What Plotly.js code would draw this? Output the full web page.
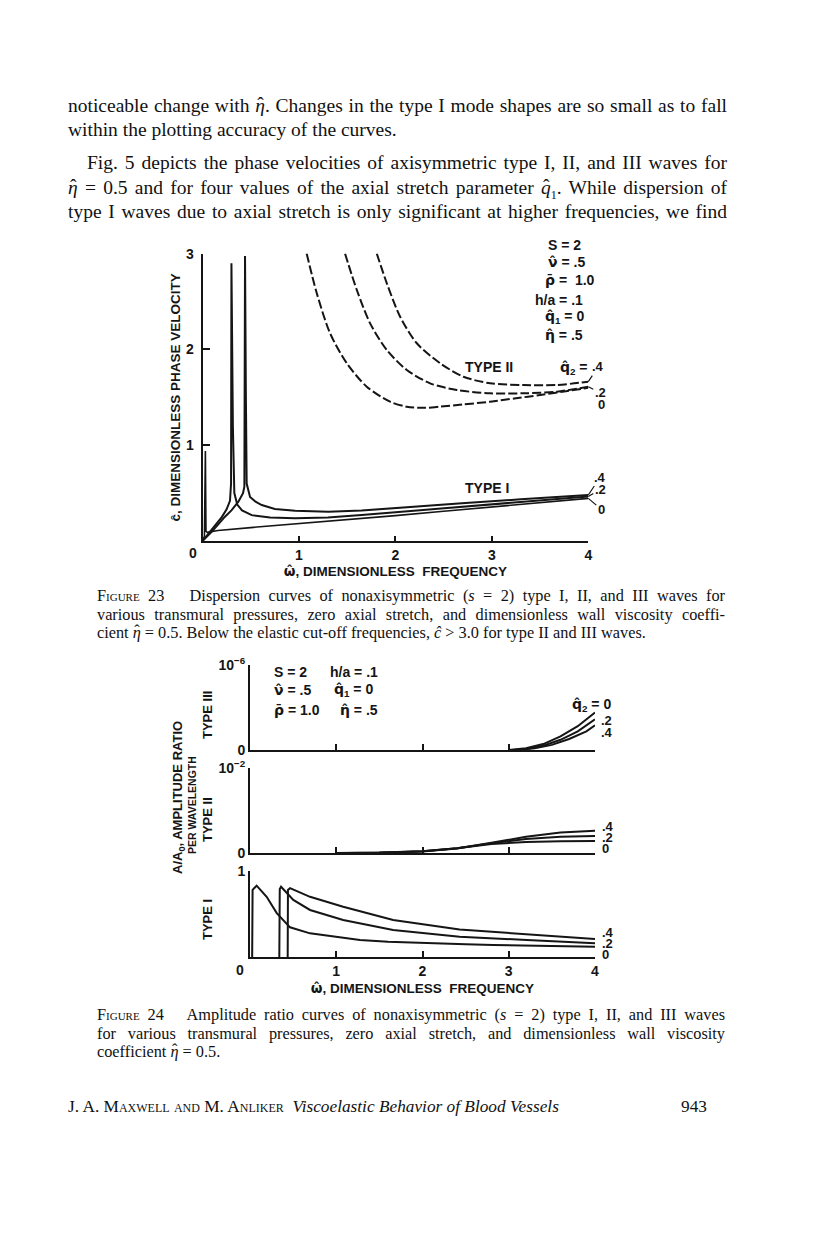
<!DOCTYPE html>
<html>
<head>
<meta charset="utf-8">
<script src="https://cdn.plot.ly/plotly-3.0.1.min.js"></script>
<style>
  html, body { margin:0; padding:0; background:#fff; }
  #page { position:relative; width:816px; height:1252px; overflow:hidden; background:#fff; }
  #plot { position:absolute; left:0; top:0; width:816px; height:1252px; }
  .ln { position:absolute; font-family:"Liberation Serif","Times New Roman",serif; color:#111;
        text-align:justify; text-align-last:justify; white-space:normal; }
  .body { font-size:19.5px; line-height:24px; }
  .cap { font-size:16.3px; line-height:19px; }
  .foot { font-size:17.3px; line-height:22px; }
  .nj { text-align:left; text-align-last:left; white-space:nowrap; }
  .sc { font-variant:small-caps; }
  .h { position:relative; display:inline-block; }
  .h::after { content:"ˆ"; position:absolute; left:50%; top:-0.1em; transform:translateX(-45%); font-style:normal; }
</style>
</head>
<body>
<div id="page">
  <div class="ln body" style="top:94px;left:68px;width:659px">noticeable change with <i class="h">η</i>. Changes in the type I mode shapes are so small as to fall</div>
  <div class="ln body nj" style="top:118px;left:68px;width:659px">within the plotting accuracy of the curves.</div>
  <div class="ln body" style="top:151px;left:87px;width:640px">Fig. 5 depicts the phase velocities of axisymmetric type I, II, and III waves for</div>
  <div class="ln body" style="top:176px;left:68px;width:659px"><i class="h">η</i> = 0.5 and for four values of the axial stretch parameter <i class="h">q</i><sub style="font-size:12px">1</sub>. While dispersion of</div>
  <div class="ln body" style="top:200px;left:68px;width:659px">type I waves due to axial stretch is only significant at higher frequencies, we find</div>

  <div class="ln cap" style="top:586px;left:97px;width:628px"><span class="sc">Figure</span> 23&nbsp;&nbsp; Dispersion curves of nonaxisymmetric (<i>s</i> = 2) type I, II, and III waves for</div>
  <div class="ln cap" style="top:605px;left:97px;width:628px">various transmural pressures, zero axial stretch, and dimensionless wall viscosity coeffi-</div>
  <div class="ln cap nj" style="top:623px;left:97px;width:628px">cient <i class="h">η</i> = 0.5. Below the elastic cut-off frequencies, <i>ĉ</i> &gt; 3.0 for type II and III waves.</div>

  <div class="ln cap" style="top:1005px;left:97px;width:628px"><span class="sc">Figure</span> 24&nbsp;&nbsp; Amplitude ratio curves of nonaxisymmetric (<i>s</i> = 2) type I, II, and III waves</div>
  <div class="ln cap" style="top:1024px;left:97px;width:628px">for various transmural pressures, zero axial stretch, and dimensionless wall viscosity</div>
  <div class="ln cap nj" style="top:1042px;left:97px;width:628px">coefficient <i class="h">η</i> = 0.5.</div>

  <div class="ln foot nj" style="top:1096px;left:68px;width:520px">J. A. M<span class="sc">axwell and</span> M. A<span class="sc">nliker</span>&nbsp;&nbsp;<i>Viscoelastic Behavior of Blood Vessels</i></div>
  <div class="ln foot nj" style="top:1096px;left:681px;width:40px">943</div>
  <div id="plot"></div>
</div>
<script>
// shrink any justified line whose natural width exceeds its box so it never wraps
document.querySelectorAll('.ln').forEach(el => {
  const target = parseFloat(el.style.width);
  const probe = document.createElement('span');
  probe.className = el.className.replace('ln', '');
  probe.style.cssText = 'position:absolute;visibility:hidden;white-space:nowrap;font-family:"Liberation Serif",serif;';
  probe.innerHTML = el.innerHTML;
  document.getElementById('page').appendChild(probe);
  const w = probe.getBoundingClientRect().width;
  probe.remove();
  if (w > target - 3) {
    const fs = parseFloat(getComputedStyle(el).fontSize);
    el.style.fontSize = (fs * (target - 6) / w).toFixed(2) + 'px';
  }
});

// ---------- Figure 23 : dispersion curves (x = dimensionless frequency, y = phase velocity) ----------
// Type II (dashed)
const f23_II_q0_x = [1.08, 1.185, 1.323, 1.496, 1.703, 1.945, 2.118, 2.30, 2.464, 2.70, 2.982, 3.25, 3.501, 3.75, 4.0];
const f23_II_q0_y = [3.0, 2.586, 2.168, 1.855, 1.611, 1.454, 1.402, 1.39, 1.402, 1.425, 1.454, 1.49, 1.524, 1.56, 1.60];
const f23_II_q2_x = [1.478, 1.60, 1.738, 1.911, 2.118, 2.36, 2.637, 2.982, 3.328, 3.674, 4.0];
const f23_II_q2_y = [3.0, 2.62, 2.272, 1.994, 1.785, 1.646, 1.576, 1.542, 1.542, 1.559, 1.611];
const f23_II_q4_x = [1.807, 1.911, 2.049, 2.222, 2.464, 2.705, 2.982, 3.328, 3.674, 4.0];
const f23_II_q4_y = [3.0, 2.69, 2.341, 2.064, 1.855, 1.715, 1.646, 1.628, 1.628, 1.663];
// Type I (solid)
const f23_I_q0_x = [0, 0.02, 0.030, 0.036, 0.05, 0.10, 0.16, 0.5, 1.0, 1.5, 2.0, 2.5, 3.0, 3.5, 4.0];
const f23_I_q0_y = [0, 0.05, 0.94, 0.10, 0.09, 0.10, 0.11, 0.14, 0.18, 0.225, 0.265, 0.31, 0.355, 0.40, 0.445];
const f23_I_q2_x = [0, 0.05, 0.13, 0.2, 0.25, 0.285, 0.296, 0.300, 0.315, 0.33, 0.36, 0.41, 0.51, 0.7, 0.96, 1.3, 1.65, 2.0, 2.5, 3.0, 3.5, 4.0];
const f23_I_q2_y = [0, 0.06, 0.167, 0.25, 0.33, 0.42, 0.6, 2.9, 1.2, 0.5, 0.38, 0.32, 0.27, 0.245, 0.237, 0.245, 0.271, 0.30, 0.34, 0.385, 0.425, 0.465];
const f23_I_q4_x = [0, 0.1, 0.233, 0.3, 0.372, 0.42, 0.434, 0.441, 0.45, 0.458, 0.493, 0.55, 0.614, 0.75, 0.96, 1.305, 1.65, 2.0, 2.69, 3.3, 4.0];
const f23_I_q4_y = [0, 0.1, 0.254, 0.32, 0.41, 0.5, 0.567, 2.975, 1.5, 0.60, 0.46, 0.41, 0.375, 0.335, 0.316, 0.306, 0.318, 0.341, 0.393, 0.435, 0.48];

// ---------- Figure 24 : amplitude ratio per wavelength (fraction of panel top value) ----------
// Type III panel (top value 1e-6)
const f24_III_q0_x = [3.0, 3.2, 3.4, 3.6, 3.8, 4.0];
const f24_III_q0_y = [0, 0.02, 0.07, 0.16, 0.28, 0.44];
const f24_III_q2_x = [3.05, 3.2, 3.4, 3.6, 3.8, 4.0];
const f24_III_q2_y = [0, 0.012, 0.05, 0.12, 0.22, 0.36];
const f24_III_q4_x = [3.1, 3.3, 3.5, 3.7, 3.9, 4.0];
const f24_III_q4_y = [0, 0.02, 0.06, 0.13, 0.22, 0.29];
// Type II panel (top value 1e-2)
const f24_II_q0_x = [1.0, 1.5, 2.0, 2.4, 2.8, 3.2, 3.6, 4.0];
const f24_II_q0_y = [0, 0.005, 0.022, 0.055, 0.105, 0.13, 0.138, 0.14];
const f24_II_q2_x = [1.0, 1.5, 2.0, 2.4, 2.8, 3.2, 3.6, 4.0];
const f24_II_q2_y = [0, 0.004, 0.02, 0.055, 0.115, 0.165, 0.19, 0.2];
const f24_II_q4_x = [1.1, 1.5, 2.0, 2.4, 2.8, 3.2, 3.6, 4.0];
const f24_II_q4_y = [0, 0.003, 0.017, 0.052, 0.12, 0.19, 0.24, 0.262];
// Type I panel (top value 1)
const f24_I_q0_x = [0.025, 0.03, 0.077, 0.193, 0.31, 0.464, 0.696, 1.0, 1.275, 1.6, 2.05, 2.5, 2.82, 3.4, 4.0];
const f24_I_q0_y = [0, 0.78, 0.83, 0.70, 0.51, 0.345, 0.275, 0.23, 0.198, 0.178, 0.159, 0.148, 0.14, 0.13, 0.12];
const f24_I_q2_x = [0.34, 0.345, 0.36, 0.502, 0.696, 1.08, 1.66, 2.43, 3.21, 4.0];
const f24_I_q2_y = [0, 0.79, 0.817, 0.663, 0.547, 0.43, 0.314, 0.236, 0.198, 0.16];
const f24_I_q4_x = [0.437, 0.44, 0.464, 0.696, 1.08, 1.66, 2.43, 3.21, 4.0];
const f24_I_q4_y = [0, 0.78, 0.80, 0.70, 0.585, 0.43, 0.32, 0.262, 0.209];

const freqTicks = [1, 2, 3, 4];
const freqTickText = ['1', '2', '3', '4'];
const velTicks = [1, 2, 3];
const velTickText = ['1', '2', '3'];

// ---------- layout helpers ----------
const W = 816, H = 1252;
const X = p => p / W, Y = p => 1 - p / H;
const INK = '#151515';
const FONT = 'Liberation Sans, Arial, sans-serif';
const bf = (s) => ({family: FONT, size: s, color: INK, weight: 700});
// a letter with a circumflex / macron, drawn with a font that places combining marks well
const hat = (ch) => '<span style="font-family:DejaVu Sans">' + ch + '\u0302</span>';
const bar = (ch) => '<span style="font-family:DejaVu Sans">' + ch + '\u0304</span>';

function solid(x, y, xa, ya, w) {
  return {x, y, xaxis: xa, yaxis: ya, type: 'scatter', mode: 'lines', hoverinfo: 'skip',
          line: {color: INK, width: w || 2}, showlegend: false};
}
function dashed(x, y, xa, ya) {
  return {x, y, xaxis: xa, yaxis: ya, type: 'scatter', mode: 'lines', hoverinfo: 'skip',
          line: {color: INK, width: 2, dash: '9px,3px', shape: 'spline', smoothing: 0.8}, showlegend: false};
}
const last = a => a[a.length - 1];

const traces = [
  dashed(f23_II_q0_x, f23_II_q0_y, 'x', 'y'),
  dashed(f23_II_q2_x, f23_II_q2_y, 'x', 'y'),
  dashed(f23_II_q4_x, f23_II_q4_y, 'x', 'y'),
  solid(f23_I_q0_x, f23_I_q0_y, 'x', 'y', 1.6),
  solid(f23_I_q2_x, f23_I_q2_y, 'x', 'y', 2),
  solid(f23_I_q4_x, f23_I_q4_y, 'x', 'y', 2),
  solid(f24_III_q0_x, f24_III_q0_y, 'x2', 'y2'),
  solid(f24_III_q2_x, f24_III_q2_y, 'x2', 'y2'),
  solid(f24_III_q4_x, f24_III_q4_y, 'x2', 'y2'),
  solid(f24_II_q0_x, f24_II_q0_y, 'x3', 'y3'),
  solid(f24_II_q2_x, f24_II_q2_y, 'x3', 'y3'),
  solid(f24_II_q4_x, f24_II_q4_y, 'x3', 'y3'),
  solid(f24_I_q0_x, f24_I_q0_y, 'x4', 'y4'),
  solid(f24_I_q2_x, f24_I_q2_y, 'x4', 'y4'),
  solid(f24_I_q4_x, f24_I_q4_y, 'x4', 'y4')
];

function xax(dom, anchor, labels, extra) {
  return Object.assign({
    domain: dom, anchor: anchor, range: [0, 4], showgrid: false, zeroline: false,
    showline: true, linecolor: INK, linewidth: 2, ticks: 'inside', ticklen: 6, tickwidth: 2, tickcolor: INK,
    tickvals: freqTicks, ticktext: freqTickText, showticklabels: labels, tickfont: bf(14), fixedrange: true
  }, extra || {});
}
function yax(dom, anchor, range, tv, tt, extra) {
  return Object.assign({
    domain: dom, anchor: anchor, range: range, showgrid: false, zeroline: false,
    showline: true, linecolor: INK, linewidth: 2, ticks: 'inside', ticklen: 8, tickwidth: 2, tickcolor: INK,
    tickvals: tv, ticktext: tt, tickfont: bf(14), fixedrange: true
  }, extra || {});
}

const d23x = [X(202.5), X(588.3)], d23y = [Y(541), Y(253.6)];
const d24x = [X(250), X(595)];
const dIII = [Y(750), Y(665)], dII = [Y(853), Y(768)], dI = [Y(957), Y(871)];

function pa(text, px, py, opt) {
  return Object.assign({text, x: X(px), y: Y(py), xref: 'paper', yref: 'paper', showarrow: false,
                        font: bf(14), xanchor: 'center', yanchor: 'middle'}, opt || {});
}
function lead(text, xa, ya, xv, yv, ax, ay) {
  return {text, x: xv, y: yv, xref: xa, yref: ya, ax: ax, ay: ay, axref: 'pixel', ayref: 'pixel',
          showarrow: true, arrowhead: 0, arrowwidth: 1.2, arrowcolor: INK, standoff: 0, startstandoff: 0,
          font: bf(13), xanchor: 'center', yanchor: 'middle'};
}
const small = {xanchor: 'left', font: bf(13)};

const annotations = [
  // Figure 23
  pa('0', 193, 553),
  pa('S = 2', 546, 245, {xanchor: 'left'}),
  pa(hat('ν') + ' = .5', 546, 262, {xanchor: 'left'}),
  pa(bar('ρ') + ' =  1.0', 543, 280, {xanchor: 'left'}),
  pa('h/a = .1', 533, 300, {xanchor: 'left'}),
  pa(hat('q') + '<sub>1</sub> = 0', 543, 317, {xanchor: 'left'}),
  pa(hat('η') + ' = .5', 543, 335, {xanchor: 'left'}),
  pa('TYPE II', 463, 367, {xanchor: 'left'}),
  pa('TYPE I', 463, 488, {xanchor: 'left'}),
  pa(hat('q') + '<sub>2</sub> =', 590, 368, {xanchor: 'right'}),
  lead('.4', 'x', 'y', 4, last(f23_II_q4_y), 10, -15),
  lead('.2', 'x', 'y', 4, last(f23_II_q2_y), 12, 6),
  lead('0', 'x', 'y', 4, last(f23_II_q0_y), 13, 17),
  lead('.4', 'x', 'y', 4, last(f23_I_q4_y), 12, -18),
  lead('.2', 'x', 'y', 4, last(f23_I_q2_y), 12, -7),
  lead('0', 'x', 'y', 4, last(f23_I_q0_y), 13, 11),
  // Figure 24
  pa('S = 2', 272, 672, {xanchor: 'left'}),
  pa('h/a = .1', 328, 672, {xanchor: 'left'}),
  pa(hat('ν') + ' = .5', 272, 690, {xanchor: 'left'}),
  pa(hat('q') + '<sub>1</sub> = 0', 332, 690, {xanchor: 'left'}),
  pa(bar('ρ') + ' = 1.0', 272, 710, {xanchor: 'left'}),
  pa(hat('η') + ' = .5', 338, 710, {xanchor: 'left'}),
  pa(hat('q') + '<sub>2</sub> = 0', 570, 705, {xanchor: 'left'}),
  pa('.2', 599, 720, small),
  pa('.4', 599, 732, small),
  pa('.4', 600, 826, small),
  pa('.2', 600, 837, small),
  pa('0', 600, 848, small),
  pa('.4', 600, 932, small),
  pa('.2', 600, 943, small),
  pa('0', 600, 954, small),
  pa('0', 240, 970),
  pa('TYPE III', 207, 715, {textangle: -90, font: bf(13)}),
  pa('TYPE II', 207, 820, {textangle: -90, font: bf(13)}),
  pa('TYPE I', 207, 920, {textangle: -90, font: bf(13)}),
  pa('A/A<sub>0</sub>, AMPLITUDE RATIO', 178, 798, {textangle: -90, font: bf(13)}),
  pa('PER WAVELENGTH', 192, 805, {textangle: -90, font: bf(10.5)})
];

const layout = {
  width: W, height: H, margin: {l: 0, r: 0, t: 0, b: 0, pad: 0},
  paper_bgcolor: 'rgba(0,0,0,0)', plot_bgcolor: 'rgba(0,0,0,0)', showlegend: false,
  font: {family: FONT, color: INK},
  xaxis: xax(d23x, 'y', true, {title: {text: hat('ω') + ', DIMENSIONLESS  FREQUENCY', font: bf(13.5), standoff: 4}, ticklen: 5}),
  yaxis: yax(d23y, 'x', [0, 3], velTicks, velTickText, {title: {text: 'ĉ, DIMENSIONLESS PHASE VELOCITY', font: bf(13.5), standoff: 2}, ticklen: 7, ticklabelstandoff: 4}),
  xaxis2: xax(d24x, 'y2', false),
  yaxis2: yax(dIII, 'x2', [0, 1], [0, 1], ['0', '10<sup>−6</sup>']),
  xaxis3: xax(d24x, 'y3', false),
  yaxis3: yax(dII, 'x3', [0, 1], [0, 1], ['0', '10<sup>−2</sup>']),
  xaxis4: xax(d24x, 'y4', true, {title: {text: hat('ω') + ', DIMENSIONLESS  FREQUENCY', font: bf(13.5), standoff: 6}}),
  yaxis4: yax(dI, 'x4', [0, 1], [1], ['1']),
  annotations: annotations
};

Plotly.newPlot('plot', traces, layout, {staticPlot: true, displayModeBar: false});
</script>
</body>
</html>
